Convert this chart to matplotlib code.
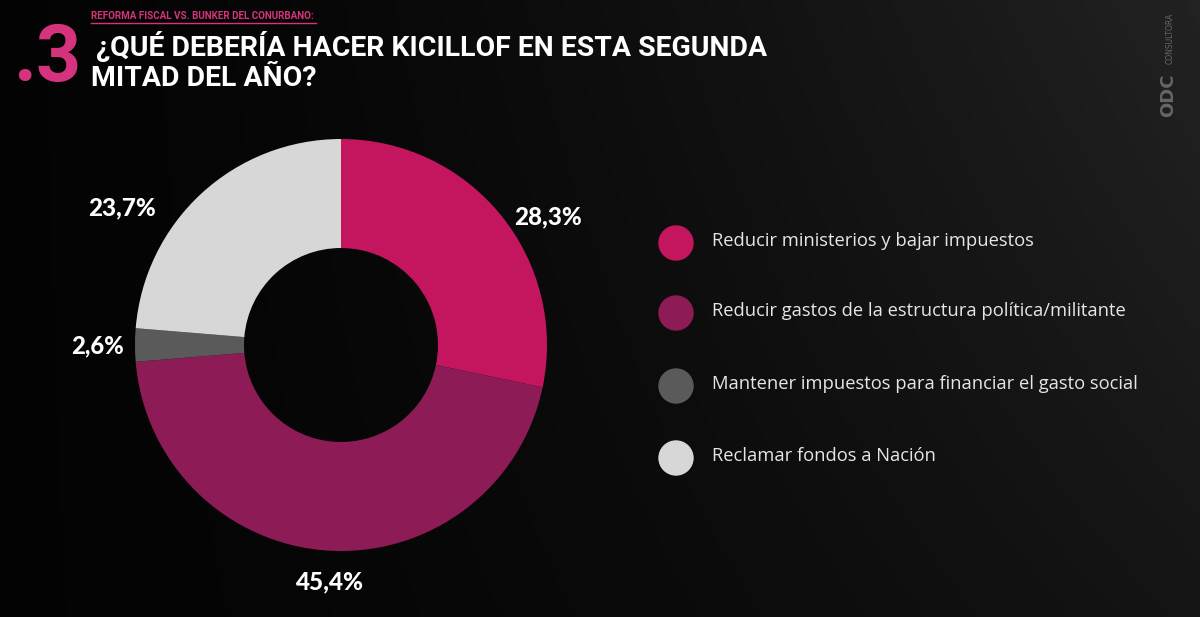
import numpy as np
import matplotlib
matplotlib.use("Agg")
import matplotlib.pyplot as plt
from matplotlib.patches import Circle

# data
categories = [
    "Reducir ministerios y bajar impuestos",
    "Reducir gastos de la estructura política/militante",
    "Mantener impuestos para financiar el gasto social",
    "Reclamar fondos a Nación",
]
values = [28.3, 45.4, 2.6, 23.7]
value_labels = ["28,3%", "45,4%", "2,6%", "23,7%"]
colors = ["#C4165E", "#8C1B56", "#5A5A5A", "#D7D7D7"]

W, H = 1200, 617
PINK = "#D6337F"


def fit_width(txt, target):
    """Rescale the font of a text so its rendered width is target pixels."""
    r = fig.canvas.get_renderer()
    w = txt.get_window_extent(renderer=r).width
    txt.set_fontsize(txt.get_fontsize() * target / w)


fig = plt.figure(figsize=(W / 100, H / 100), dpi=100)
fig.patch.set_facecolor("#050505")
ax = fig.add_axes([0, 0, 1, 1])

# dark background, a bit lighter on the right like the cube photo
gx = np.linspace(0, 1, 300)
gy = np.linspace(0, 1, 160)
X, Y = np.meshgrid(gx, gy)
bg = np.clip(0.015 + 0.12 * X ** 1.6 * (0.55 + 0.45 * Y), 0, 1)
ax.imshow(bg, cmap="gray", vmin=0, vmax=1, extent=[0, W, 0, H],
          origin="lower", aspect="auto", zorder=0)

# donut
cx, cy, R = 341, H - 345, 206
wedges, texts = ax.pie(
    values, colors=colors, startangle=90, counterclock=False,
    center=(cx, cy), radius=R, labels=value_labels,
    wedgeprops=dict(width=R - 97, linewidth=0),
    textprops=dict(color="white", fontsize=18, fontweight="black",
                   family=["Lato", "DejaVu Sans"]),
    frame=True,
)
ax.set_xlim(0, W)
ax.set_ylim(0, H)
ax.set_aspect("equal")
ax.axis("off")

# label placement (offset from the donut centre, pixels)
label_offsets = [(207, 128), (-12, -237), (-243, -1), (-219, 137)]
for t, (dx, dy) in zip(texts, label_offsets):
    t.set_position((cx + dx, cy + dy))
    t.set_ha("center")
    t.set_va("center")
    fit_width(t, 68 if len(t.get_text()) > 4 else 53)

# legend
leg_y = [H - 243, H - 313, H - 386, H - 458]
for col, lab, y in zip(colors, categories, leg_y):
    ax.add_patch(Circle((676, y), 17, color=col, zorder=3))
    t = ax.text(712, y + 2, lab, color="#E6E6E6", fontsize=13,
                family=["Open Sans", "DejaVu Sans"], va="center", ha="left")
    if lab.startswith("Mantener"):
        fit_width(t, 424)
        legend_size = t.get_fontsize()
for t in ax.texts[-4:]:
    t.set_fontsize(legend_size)

# header
cond = ["Roboto", "DejaVu Sans"]
sub = ax.text(91, H - 16, "REFORMA FISCAL VS. BUNKER DEL CONURBANO:",
              color=PINK, fontsize=10, fontweight="bold", family=cond,
              va="center", ha="left")
fit_width(sub, 225)
ax.plot([91, 91 + 225], [H - 23, H - 23], color=PINK, lw=1)
num = ax.text(13, H - 60, ".3", color=PINK, fontsize=50, fontweight="bold",
              family=cond, va="center", ha="left")
fit_width(num, 68)
t1 = ax.text(96, H - 46, "¿QUÉ DEBERÍA HACER KICILLOF EN ESTA SEGUNDA",
             color="white", fontsize=20, fontweight="bold", family=cond,
             va="center", ha="left")
fit_width(t1, 670)
ax.text(91, H - 79, "MITAD DEL AÑO?", color="white",
        fontsize=t1.get_fontsize(), fontweight="bold", family=cond,
        va="center", ha="left")

# watermark
ax.text(1168, H - 95, "ODC", color="#666666", fontsize=13, fontweight="bold",
        rotation=90, va="center", ha="center")
ax.text(1170, H - 38, "CONSULTORA", color="#666666", fontsize=5.5,
        rotation=90, va="center", ha="center")

fig.savefig("out.png", dpi=100, facecolor=fig.get_facecolor())
